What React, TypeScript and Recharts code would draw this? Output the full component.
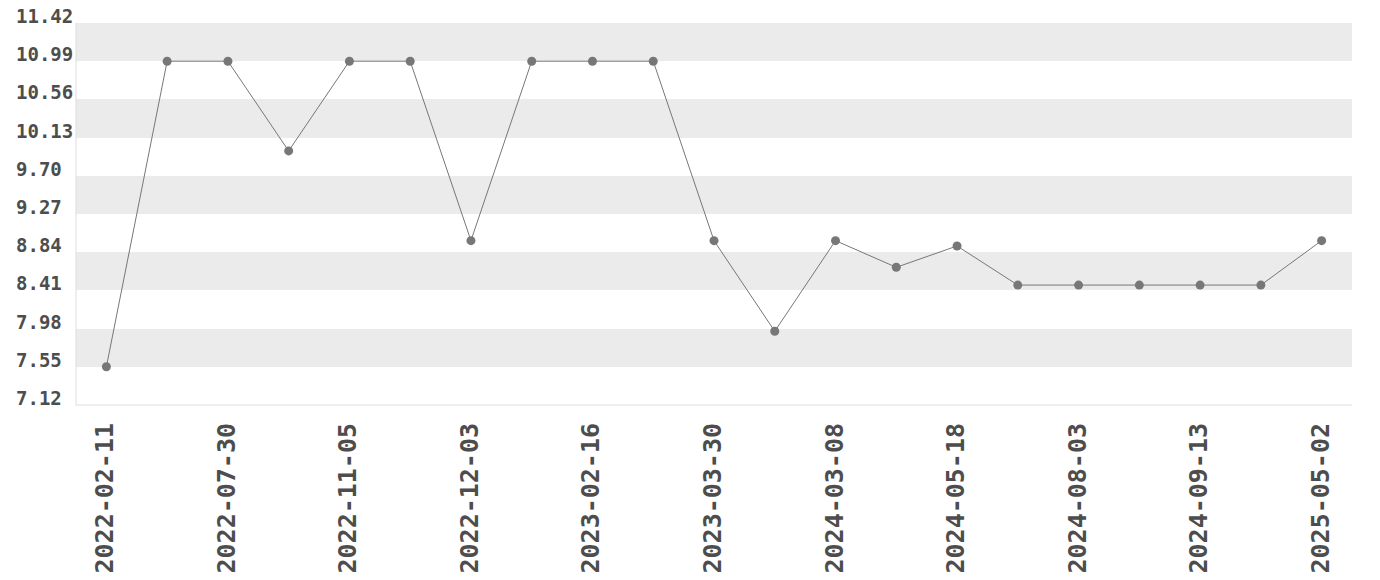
import { LineChart, Line, XAxis, YAxis, CartesianGrid } from "recharts";

if (typeof document !== "undefined") document.body.style.margin = "0";

const dates = [
  "2022-02-11", "2022-05-14", "2022-07-30", "2022-09-17", "2022-11-05", "2022-11-19",
  "2022-12-03", "2023-01-14", "2023-02-16", "2023-03-09", "2023-03-30", "2023-11-22",
  "2024-03-08", "2024-04-13", "2024-05-18", "2024-06-29", "2024-08-03", "2024-08-24",
  "2024-09-13", "2025-01-18", "2025-05-02",
];

const values = [
  7.55, 10.99, 10.99, 9.98, 10.99, 10.99,
  8.97, 10.99, 10.99, 10.99, 8.97, 7.95,
  8.97, 8.67, 8.91, 8.47, 8.47, 8.47,
  8.47, 8.47, 8.97,
];

const yTicks = [7.12, 7.55, 7.98, 8.41, 8.84, 9.27, 9.7, 10.13, 10.56, 10.99, 11.42];

const FONT = "'DejaVu Sans Mono', monospace";
const TEXT = "#4d4d4d";
const LINE = "#777";
const BORDER = "#ddd";

const chartData = dates.map((d, i) => ({ date: d, value: values[i] }));

const YTick = ({ y, payload }: any) => (
  <text x={16} y={y} textAnchor="start" fontFamily={FONT} fontWeight="bold" fontSize={19} fill={TEXT}>
    {payload.value.toFixed(2)}
  </text>
);

const XTick = ({ x, y, payload }: any) => (
  <text
    x={0}
    y={0}
    transform={`translate(${x + 7},${y + 10}) rotate(-90)`}
    textAnchor="end"
    fontFamily={FONT}
    fontWeight="bold"
    fontSize={25}
    fill={TEXT}
  >
    {payload.value}
  </text>
);

export default function App() {
  return (
    <div style={{ width: 1380, height: 580, background: "#fff" }}>
      <LineChart width={1380} height={580} data={chartData} margin={{ top: 23, right: 28, bottom: 0, left: 0 }}>
        <CartesianGrid vertical={false} stroke="transparent" horizontalFill={["#ebebeb", "#ffffff"]} />
        <XAxis
          dataKey="date"
          scale="band"
          height={175}
          interval={1}
          tickLine={false}
          axisLine={{ stroke: BORDER }}
          tick={<XTick />}
        />
        <XAxis xAxisId="top" dataKey="date" orientation="top" height={0} tick={false} tickLine={false} axisLine={{ stroke: BORDER }} />
        <YAxis
          width={76}
          domain={[7.12, 11.42]}
          ticks={yTicks}
          tickLine={false}
          axisLine={{ stroke: BORDER }}
          tick={<YTick />}
        />
        <YAxis yAxisId="right" orientation="right" width={0} domain={[7.12, 11.42]} tick={false} tickLine={false} axisLine={{ stroke: BORDER }} />
        <Line
          dataKey="value"
          stroke={LINE}
          strokeWidth={1}
          dot={{ r: 4.5, fill: LINE, stroke: "none" }}
          activeDot={false}
          isAnimationActive={false}
        />
      </LineChart>
    </div>
  );
}
